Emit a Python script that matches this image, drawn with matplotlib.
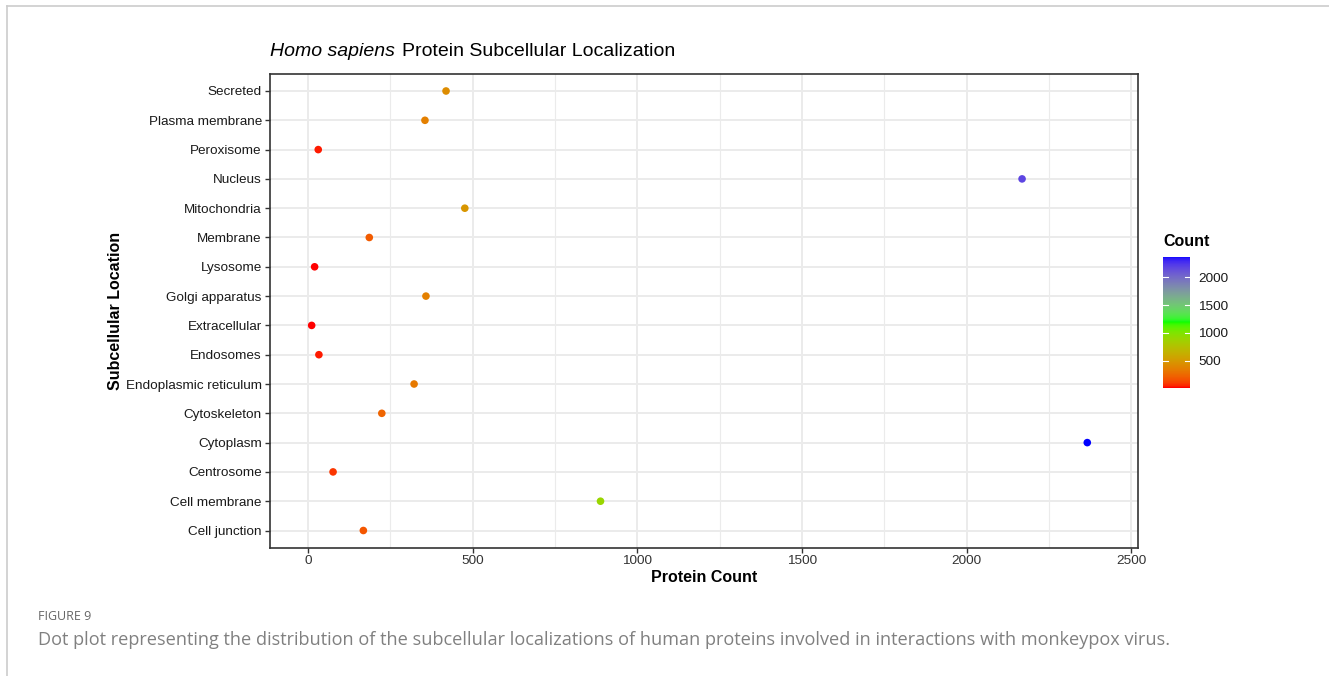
import numpy as np
import matplotlib
matplotlib.use('Agg')
import matplotlib.pyplot as plt
from matplotlib.colors import ListedColormap, Normalize
from matplotlib.lines import Line2D
from matplotlib.ticker import MultipleLocator

plt.rcParams['font.family'] = ['Liberation Sans', 'DejaVu Sans']

locations = [
    "Cell junction", "Cell membrane", "Centrosome", "Cytoplasm", "Cytoskeleton",
    "Endoplasmic reticulum", "Endosomes", "Extracellular", "Golgi apparatus",
    "Lysosome", "Membrane", "Mitochondria", "Nucleus", "Peroxisome",
    "Plasma membrane", "Secreted",
]
counts = [168, 888, 76, 2366, 224, 322, 33, 11, 358, 20, 186, 476, 2168, 31, 355, 419]
x_ticks = [0, 500, 1000, 1500, 2000, 2500]
cbar_ticks = [500, 1000, 1500, 2000]


# ggplot-like gradientn: red -> green -> blue interpolated in Lab
def srgb_to_lab(rgb):
    rgb = np.asarray(rgb, float)
    lin = np.where(rgb <= 0.04045, rgb / 12.92, ((rgb + 0.055) / 1.055) ** 2.4)
    m = np.array([[0.4124, 0.3576, 0.1805],
                  [0.2126, 0.7152, 0.0722],
                  [0.0193, 0.1192, 0.9505]])
    xyz = lin @ m.T / np.array([0.95047, 1.0, 1.08883])
    f = np.where(xyz > 0.008856, np.cbrt(xyz), 7.787 * xyz + 16 / 116)
    return np.stack([116 * f[..., 1] - 16,
                     500 * (f[..., 0] - f[..., 1]),
                     200 * (f[..., 1] - f[..., 2])], -1)


def lab_to_srgb(lab):
    L, a, b = lab[..., 0], lab[..., 1], lab[..., 2]
    fy = (L + 16) / 116
    fx = fy + a / 500
    fz = fy - b / 200
    f = np.stack([fx, fy, fz], -1)
    xyz = np.where(f > 0.206893, f ** 3, (f - 16 / 116) / 7.787)
    xyz = xyz * np.array([0.95047, 1.0, 1.08883])
    m = np.array([[3.2406, -1.5372, -0.4986],
                  [-0.9689, 1.8758, 0.0415],
                  [0.0557, -0.2040, 1.0570]])
    lin = xyz @ m.T
    lin = np.clip(lin, 0, 1)
    rgb = np.where(lin <= 0.0031308, 12.92 * lin, 1.055 * lin ** (1 / 2.4) - 0.055)
    return np.clip(rgb, 0, 1)


stops = srgb_to_lab([[1, 0, 0], [0, 1, 0], [0, 0, 1]])
t = np.linspace(0, 1, 256)
seg = np.minimum((t * 2).astype(int), 1)
frac = t * 2 - seg
lab = stops[seg] * (1 - frac[:, None]) + stops[seg + 1] * frac[:, None]
cmap = ListedColormap(lab_to_srgb(lab))
norm = Normalize(min(counts), max(counts))

W, H = 1329, 676
fig = plt.figure(figsize=(W / 100, H / 100), dpi=100)

# page frame lines (top and left)
fig.add_artist(Line2D([7 / W, 1], [1 - 6 / H, 1 - 6 / H], color='#cccccc', lw=1.2))
fig.add_artist(Line2D([7 / W, 7 / W], [0, 1 - 6 / H], color='#cccccc', lw=1.2))

ax = fig.add_axes([269.5 / W, 1 - 547.5 / H, (1138 - 269.5) / W, (547.5 - 74) / H])
ypos = np.arange(len(locations))
ax.scatter(counts, ypos, c=counts, cmap=cmap, norm=norm, s=30, zorder=3, linewidths=0)
ax.set_xlim(-117, 2520)
ax.set_ylim(-0.58, len(locations) - 1 + 0.58)
ax.set_yticks(ypos)
ax.set_yticklabels(locations, fontsize=9.7, color='#1a1a1a')
ax.set_xticks(x_ticks)
ax.set_xticklabels([str(v) for v in x_ticks], fontsize=9.7, color='#333333')
ax.xaxis.set_minor_locator(MultipleLocator(250))
ax.tick_params(which='minor', length=0)
ax.tick_params(which='major', length=3.5, width=1, color='#333333', pad=2)
ax.grid(which='major', color='#ebebeb', lw=1.4, zorder=0)
ax.grid(which='minor', axis='x', color='#ebebeb', lw=0.8, zorder=0)
ax.set_axisbelow(True)
for s in ax.spines.values():
    s.set_color('#333333')
    s.set_linewidth(1.2)
ax.set_xlabel("Protein Count", fontsize=11.5, fontweight='bold', labelpad=2)
ax.set_ylabel("Subcellular Location", fontsize=11.5, fontweight='bold', labelpad=2)

fig.text(270 / W, 1 - 51 / H, "Homo sapiens", fontsize=14, style='italic', va='center', ha='left')
fig.text(402 / W, 1 - 51 / H, "Protein Subcellular Localization", fontsize=14, va='center', ha='left')

# colour bar
cax = fig.add_axes([1163 / W, 1 - 388 / H, 27 / W, (388 - 257) / H])
grad = np.linspace(norm.vmin, norm.vmax, 300)[:, None]
cax.imshow(grad, aspect='auto', cmap=cmap, norm=norm, origin='lower',
           extent=[0, 1, norm.vmin, norm.vmax])
cax.set_xlim(0, 1)
cax.set_ylim(norm.vmin, norm.vmax)
for v in cbar_ticks:
    cax.plot([0, 0.2], [v, v], color='white', lw=0.8)
    cax.plot([0.8, 1], [v, v], color='white', lw=0.8)
cax.set_xticks([])
cax.yaxis.tick_right()
cax.set_yticks(cbar_ticks)
cax.set_yticklabels([str(v) for v in cbar_ticks], fontsize=9.7, color='#1a1a1a')
cax.tick_params(axis='y', length=0, pad=6)
for s in cax.spines.values():
    s.set_visible(False)
fig.text(1163 / W, 1 - 241 / H, "Count", fontsize=11.5, fontweight='bold', va='center', ha='left')

# caption
fig.text(38 / W, 1 - 617 / H, "FIGURE 9", fontsize=9, color='#666666', va='center',
         family=['Open Sans', 'DejaVu Sans'])
fig.text(38 / W, 1 - 640 / H,
         "Dot plot representing the distribution of the subcellular localizations of human proteins involved in interactions with monkeypox virus.",
         fontsize=13.1, color='#808080', va='center', family=['Open Sans', 'DejaVu Sans'])

fig.savefig('out.png', dpi=100)
